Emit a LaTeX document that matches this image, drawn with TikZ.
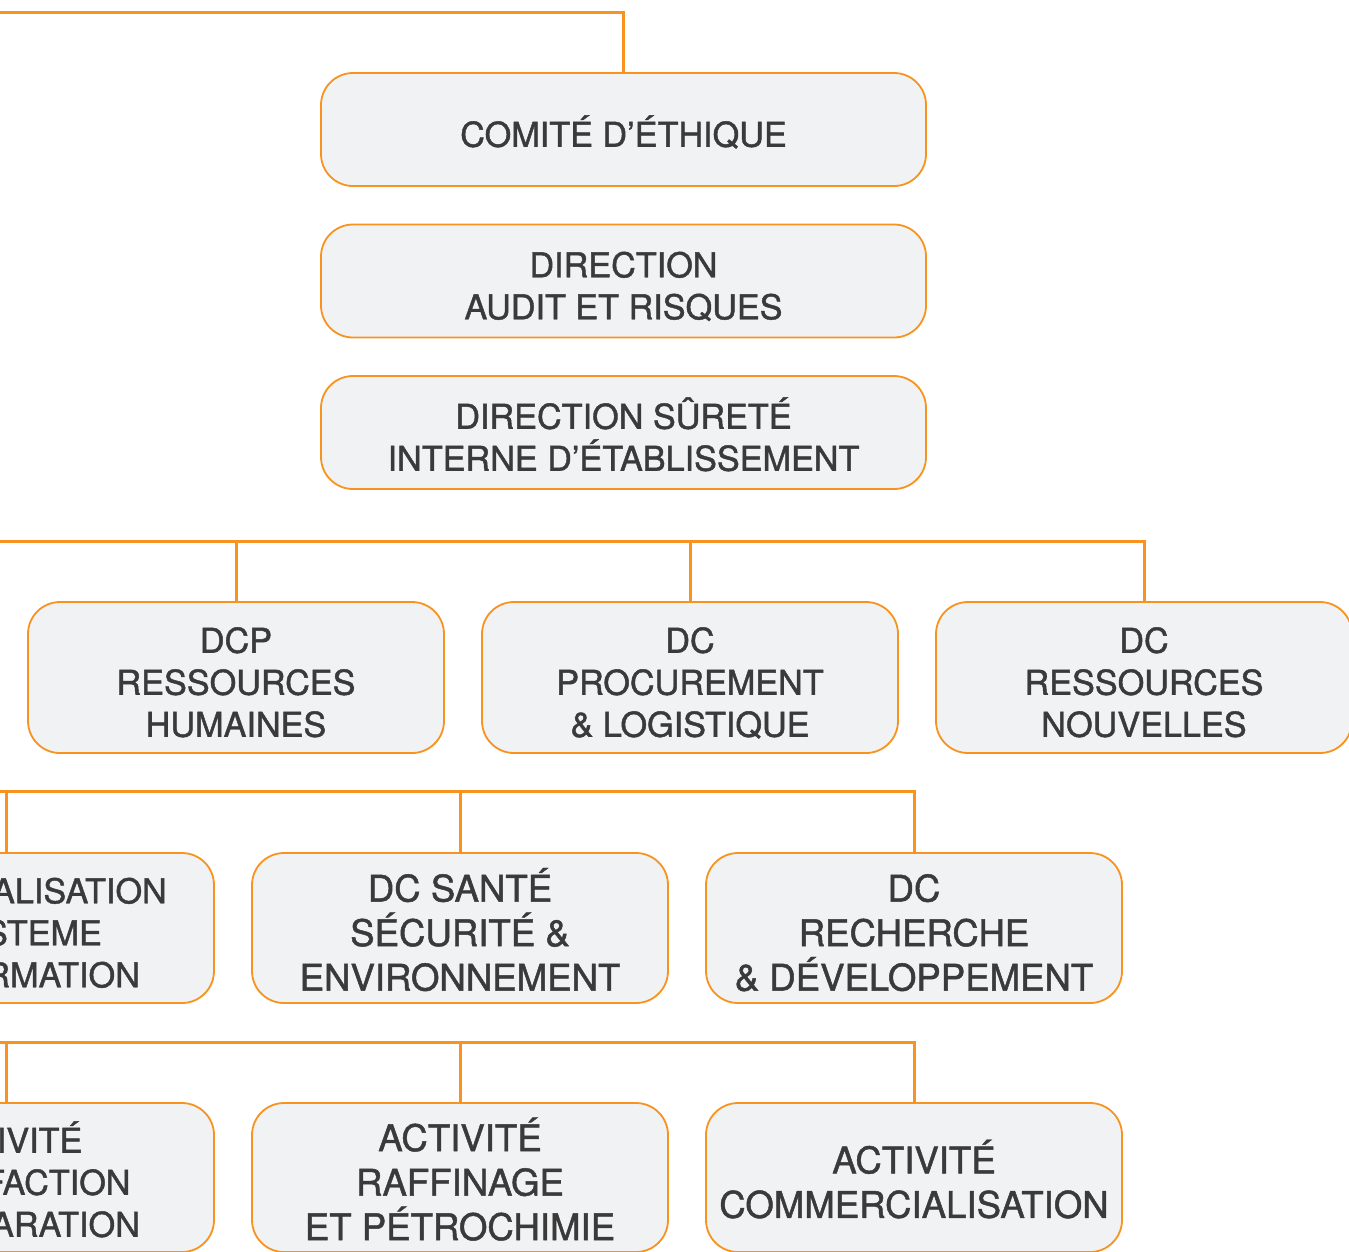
\documentclass[tikz,border=0pt]{standalone}
\usepackage{fontspec}
\setmainfont[FakeBold=1.3]{TeX Gyre Heros}
\definecolor{org}{HTML}{F7931E}
\definecolor{boxfill}{HTML}{F1F2F4}
\definecolor{txt}{HTML}{3A3A3A}
\tikzset{
  box/.style={draw=org, line width=1.8pt, fill=boxfill, rounded corners=32pt,
    inner sep=0pt, align=center, text=txt},
  sm/.style={font=\fontsize{34.2}{42}\selectfont, text depth=0pt},
  bg/.style={font=\fontsize{36.6}{44.5}\selectfont, text depth=0pt},
  smone/.style={sm, text height=34.5pt},
  smtwo/.style={sm, text height=76.5pt},
  smthree/.style={sm, text height=118.5pt},
  bgtwo/.style={bg, text height=80.5pt},
  bgthree/.style={bg, text height=125pt},
  topbox/.style={box, minimum width=605pt, minimum height=113pt},
  midbox/.style={box, minimum width=416pt, minimum height=150pt},
  conn/.style={draw=org, line width=3pt}
}
\begin{document}
\begin{tikzpicture}[x=1pt, y=-1pt]
\useasboundingbox (0,0) rectangle (1349,1251);
\clip (0,0) rectangle (1349,1251);
% top column
\node[topbox, smone] (ce) at (623.5,129.5) {COMITÉ D’ÉTHIQUE};
\node[topbox, smtwo] (da) at (623.5,281) {DIRECTION\\AUDIT ET RISQUES};
\node[topbox, smtwo] (ds) at (623.5,432.5) {DIRECTION SÛRETÉ\\INTERNE D’ÉTABLISSEMENT};
% row 4
\node[midbox, minimum height=151pt, smthree] (rh) at (236,677.5) {DCP\\RESSOURCES\\HUMAINES};
\node[midbox, minimum height=151pt, smthree] (pl) at (690,677.5) {DC\\PROCUREMENT\\\& LOGISTIQUE};
\node[midbox, minimum height=151pt, smthree] (rn) at (1144,677.5) {DC\\RESSOURCES\\NOUVELLES};
% row 5
\node[midbox, smthree] (si) at (6,928) {DC DIGITALISATION\\\& SYSTEME\\D’INFORMATION};
\node[midbox, bgthree] (hse) at (460,928) {DC SANTÉ\\SÉCURITÉ \&\\ENVIRONNEMENT};
\node[midbox, bgthree] (rd) at (914,928) {DC\\RECHERCHE\\\& DÉVELOPPEMENT};
% row 6
\node[midbox, minimum height=149pt, smthree] (lqs) at (6,1177.5) {ACTIVITÉ\\LIQUÉFACTION\\ET SÉPARATION};
\node[midbox, minimum height=149pt, bgthree] (rpc) at (460,1177.5) {ACTIVITÉ\\RAFFINAGE\\ET PÉTROCHIMIE};
\node[midbox, minimum height=149pt, bgtwo] (com) at (914,1177.5) {ACTIVITÉ\\COMMERCIALISATION};
% connectors
\coordinate (t0) at (0,12);
\draw[conn] (ce.north) |- (t0);
\coordinate (b4) at (0,541);
\draw[conn] (b4) -| (rn.north);
\draw[conn] (rh.north) -- (rh.north |- b4);
\draw[conn] (pl.north) -- (pl.north |- b4);
\coordinate (b5) at (0,791);
\draw[conn] (b5) -| (rd.north);
\draw[conn] (si.north) -- (si.north |- b5);
\draw[conn] (hse.north) -- (hse.north |- b5);
\coordinate (b6) at (0,1042);
\draw[conn] (b6) -| (com.north);
\draw[conn] (lqs.north) -- (lqs.north |- b6);
\draw[conn] (rpc.north) -- (rpc.north |- b6);
\end{tikzpicture}
\end{document}
